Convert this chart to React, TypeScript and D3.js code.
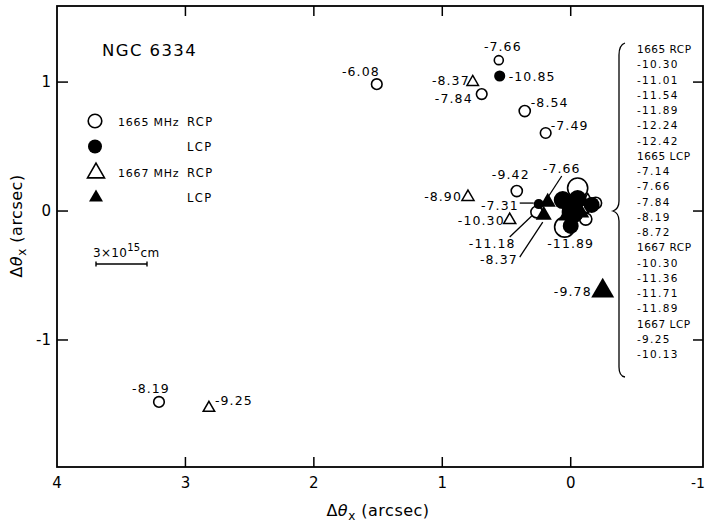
import React from "react";
import * as d3 from "d3";

// ── Offsets (arcsec) and velocity labels (km/s) ──
// s = relative marker size (spot intensity), label = velocity
const rcp1665 = [
  { x: 1.51, y: 0.984, s: 1, label: "-6.08" },
  { x: 0.693, y: 0.907, s: 1, label: "-7.84" },
  { x: 0.56, y: 1.17, s: 0.85, label: "-7.66" },
  { x: 0.358, y: 0.775, s: 1.05, label: "-8.54" },
  { x: 0.195, y: 0.605, s: 1, label: "-7.49" },
  { x: 0.42, y: 0.155, s: 1.05, label: "-9.42" },
  { x: 3.206, y: -1.48, s: 1, label: "-8.19" },
  { x: 0.265, y: -0.008, s: 1.1, label: "-11.18" },
  { x: 0.047, y: -0.124, s: 1.9, label: "-11.89" },
  { x: -0.054, y: 0.178, s: 1.9, label: null },
  { x: -0.117, y: -0.062, s: 1.15, label: null },
  { x: -0.031, y: 0.047, s: 1.3, label: null },
  { x: -0.195, y: 0.062, s: 1.1, label: null },
];

const lcp1665 = [
  { x: 0.553, y: 1.047, s: 1.05, label: "-10.85" },
  { x: 0.249, y: 0.054, s: 0.95, label: "-7.31" },
  { x: 0.062, y: 0.085, s: 1.7, label: null },
  { x: -0.054, y: 0.093, s: 1.7, label: null },
  { x: -0.016, y: -0.008, s: 2.1, label: null },
  { x: -0.163, y: 0.047, s: 1.5, label: null },
  { x: 0.0, y: -0.116, s: 1.5, label: null },
];

const rcp1667 = [
  { x: 0.763, y: 1.0, s: 1, label: "-8.37" },
  { x: 0.8, y: 0.109, s: 1.05, label: "-8.90" },
  { x: 0.475, y: -0.07, s: 1.05, label: "-10.30" },
  { x: 2.817, y: -1.527, s: 1, label: "-9.25" },
  { x: -0.023, y: 0.031, s: 1, label: null },
  { x: -0.093, y: 0.016, s: 1, label: null },
  { x: 0.023, y: -0.023, s: 1, label: null },
  { x: -0.132, y: 0.085, s: 1, label: null },
];

const lcp1667 = [
  { x: -0.249, y: -0.62, s: 2.0, label: "-9.78" },
  { x: 0.179, y: 0.07, s: 1.4, label: "-7.66" },
  { x: 0.21, y: -0.031, s: 1.4, label: "-8.37" },
  { x: 0.039, y: -0.039, s: 1.3, label: null },
  { x: -0.086, y: -0.016, s: 1.3, label: null },
];

const xTicks = [4, 3, 2, 1, 0];
const yTicks = [1, 0, -1];
const innerTicksX = [3, 2, 1, 0];

const listLines = [
  "1665 RCP", "-10.30", "-11.01", "-11.54", "-11.89", "-12.24", "-12.42",
  "1665 LCP", "-7.14", "-7.66", "-7.84", "-8.19", "-8.72",
  "1667 RCP", "-10.30", "-11.36", "-11.71", "-11.89",
  "1667 LCP", "-9.25", "-10.13",
];

const legendItems = [
  { kind: "openCircle", a: "1665 MHz", b: "RCP" },
  { kind: "fillCircle", a: "", b: "LCP" },
  { kind: "openTri", a: "1667 MHz", b: "RCP" },
  { kind: "fillTri", a: "", b: "LCP" },
];

// label placement (pixels relative to marker): [dx, dy, anchor, leader?]
type Place = [number, number, string, number[]?];
const placeRcp1665: Record<string, Place> = {
  "-6.08": [3, -8, "end"],
  "-7.84": [-9, 9, "end"],
  "-7.66": [4, -9, "middle"],
  "-8.54": [6, -4, "start"],
  "-7.49": [5, -3, "start"],
  "-9.42": [-6, -12, "middle"],
  "-8.19": [-8, -9, "middle"],
  "-11.18": [-21, 36, "end", [-27, 25, -5, 4]],
  "-11.89": [6, 21, "middle"],
};
const placeLcp1665: Record<string, Place> = {
  "-10.85": [9, 5, "start"],
  "-7.31": [-20, 6, "end", [-19, -1, -5, -1]],
};
const placeRcp1667: Record<string, Place> = {
  "-8.37": [-3, 3, "end"],
  "-8.90": [-6, 4, "end"],
  "-10.30": [-5, 5, "end"],
  "-9.25": [6, -3, "start"],
};
const placeLcp1667: Record<string, Place> = {
  "-9.78": [-11, 5, "end"],
  "-7.66": [14, -29, "middle", [14, -26, 1, -6]],
  "-8.37": [-26, 49, "end", [-24, 42, -1, 7]],
};

const W = 706;
const H = 524;
const FONT = "'DejaVu Sans', sans-serif";

export default function App() {
  const left = 57, right = 703, top = 6, bottom = 467;
  const x = d3.scaleLinear().domain([4, -1.03]).range([left, right]);
  const y = d3.scaleLinear().domain([-1.985, 1.59]).range([bottom, top]);
  const rScale = d3.scaleLinear().domain([0, 1]).range([0, 5.3]);
  const sideScale = d3.scaleLinear().domain([0, 1]).range([0, 11.5]);
  const tri = (side: number) =>
    d3.symbol(d3.symbolTriangle, (Math.sqrt(3) / 4) * side * side)() as string;

  const labelEl = (px: number, py: number, p: Place | undefined, text: string, key: string) => {
    if (!p) return null;
    const [dx, dy, anchor, leader] = p;
    return (
      <g key={key}>
        {leader && (
          <line x1={px + leader[0]} y1={py + leader[1]} x2={px + leader[2]} y2={py + leader[3]}
            stroke="#000" strokeWidth={1.3} />
        )}
        <text x={px + dx} y={py + dy} textAnchor={anchor as any} fontSize={12.5}
          letterSpacing={1.1} fontFamily={FONT}>
          {text}
        </text>
      </g>
    );
  };

  const listTop = 49;
  const listStep = 15.25;

  return (
    <svg width={W} height={H} style={{ position: "absolute", left: 0, top: 0, background: "#fff" }}
      fontFamily={FONT}>
      {/* frame */}
      <rect x={left} y={top} width={right - left} height={bottom - top} fill="none"
        stroke="#000" strokeWidth={1.8} />

      {/* ticks */}
      {innerTicksX.map((t) => (
        <g key={"tx" + t}>
          <line x1={x(t)} x2={x(t)} y1={bottom} y2={bottom - 10} stroke="#000" strokeWidth={1.5} />
          <line x1={x(t)} x2={x(t)} y1={top} y2={top + 10} stroke="#000" strokeWidth={1.5} />
        </g>
      ))}
      {yTicks.map((t) => (
        <g key={"ty" + t}>
          <line x1={left} x2={left + 11} y1={y(t)} y2={y(t)} stroke="#000" strokeWidth={1.5} />
          <line x1={right} x2={right - 10} y1={y(t)} y2={y(t)} stroke="#000" strokeWidth={1.5} />
          <text x={left - 6} y={y(t) + 5} textAnchor="end" fontSize={15}>{t === -1 ? "-1" : t}</text>
        </g>
      ))}
      {xTicks.map((t) => (
        <text key={"lx" + t} x={x(t)} y={488} textAnchor="middle" fontSize={15}>{t}</text>
      ))}
      {/* right-most tick label sits against the page edge */}
      <text x={705} y={488} textAnchor="end" fontSize={14}>-1</text>

      {/* axis titles */}
      <text x={378} y={516} textAnchor="middle" fontSize={16} letterSpacing={0.5}>
        Δ<tspan fontStyle="italic">θ</tspan>
        <tspan fontSize={12} dy={4}>x</tspan>
        <tspan dy={-4}> (arcsec)</tspan>
      </text>
      <text transform="translate(22,226) rotate(-90)" textAnchor="middle" fontSize={16} letterSpacing={0.5}>
        Δ<tspan fontStyle="italic">θ</tspan>
        <tspan fontSize={12} dy={4}>x</tspan>
        <tspan dy={-4}> (arcsec)</tspan>
      </text>

      {/* title */}
      <text x={102} y={56} fontSize={16.5} letterSpacing={1.4}>NGC 6334</text>

      {/* legend */}
      {legendItems.map((d, i) => {
        const cy = 121 + i * 25.5;
        let mark;
        if (d.kind === "openCircle")
          mark = <circle cx={95} cy={cy} r={6.8} fill="none" stroke="#000" strokeWidth={1.6} />;
        else if (d.kind === "fillCircle") mark = <circle cx={95} cy={cy} r={7} fill="#000" />;
        else if (d.kind === "openTri")
          mark = <path d={tri(17)} transform={`translate(96,${cy + 1})`} fill="none" stroke="#000" strokeWidth={1.6} />;
        else mark = <path d={tri(14)} transform={`translate(96,${cy})`} fill="#000" />;
        return (
          <g key={"lg" + i}>
            {mark}
            {d.a && <text x={118} y={cy + 4.5} fontSize={11} letterSpacing={0.8}>{d.a}</text>}
            <text x={187} y={cy + 4.5} fontSize={11.5} letterSpacing={1.4}>{d.b}</text>
          </g>
        );
      })}

      {/* scale bar */}
      <text x={93} y={257} fontSize={12} letterSpacing={0.3}>
        3×10<tspan fontSize={10} dy={-6}>15</tspan>
        <tspan fontSize={12} dy={6}>cm</tspan>
      </text>
      <line x1={96} x2={147} y1={264} y2={264} stroke="#000" strokeWidth={1.4} />
      <line x1={96} x2={96} y1={261.5} y2={266.5} stroke="#000" strokeWidth={1.4} />
      <line x1={147} x2={147} y1={261.5} y2={266.5} stroke="#000" strokeWidth={1.4} />

      {/* 1665 RCP open circles */}
      {rcp1665.map((d, i) => (
        <circle key={"a" + i} cx={x(d.x)} cy={y(d.y)} r={rScale(d.s)} fill="none" stroke="#000" strokeWidth={1.6} />
      ))}
      {/* 1667 RCP open triangles */}
      {rcp1667.map((d, i) => (
        <path key={"c" + i} d={tri(sideScale(d.s))} transform={`translate(${x(d.x)},${y(d.y)})`}
          fill="none" stroke="#000" strokeWidth={1.5} />
      ))}
      {/* 1665 LCP filled circles */}
      {lcp1665.map((d, i) => (
        <circle key={"b" + i} cx={x(d.x)} cy={y(d.y)} r={rScale(d.s)} fill="#000" />
      ))}
      {/* 1667 LCP filled triangles */}
      {lcp1667.map((d, i) => (
        <path key={"d" + i} d={tri(sideScale(d.s))} transform={`translate(${x(d.x)},${y(d.y)})`} fill="#000" />
      ))}

      {/* velocity labels */}
      {rcp1665.filter((d) => d.label).map((d, i) => labelEl(x(d.x), y(d.y), placeRcp1665[d.label!], d.label!, "la" + i))}
      {lcp1665.filter((d) => d.label).map((d, i) => labelEl(x(d.x), y(d.y), placeLcp1665[d.label!], d.label!, "lb" + i))}
      {rcp1667.filter((d) => d.label).map((d, i) => labelEl(x(d.x), y(d.y), placeRcp1667[d.label!], d.label!, "lc" + i))}
      {lcp1667.filter((d) => d.label).map((d, i) => labelEl(x(d.x), y(d.y), placeLcp1667[d.label!], d.label!, "ld" + i))}

      {/* bracketed list of clustered features */}
      <path
        d={`M625,${listTop - 6} Q619,${listTop - 4} 619,${listTop + 6} L619,${listTop + 152}
           Q619,${listTop + 160} 613,${listTop + 162} Q619,${listTop + 164} 619,${listTop + 172}
           L619,${listTop + 318} Q619,${listTop + 327} 625,${listTop + 328}`}
        fill="none" stroke="#000" strokeWidth={1.3}
      />
      {listLines.map((t, i) => (
        <text key={"ll" + i} x={637} y={listTop + i * listStep + 4} fontSize={10.5} letterSpacing={t.startsWith("1") ? 0.5 : 1.3}>
          {t}
        </text>
      ))}
    </svg>
  );
}
